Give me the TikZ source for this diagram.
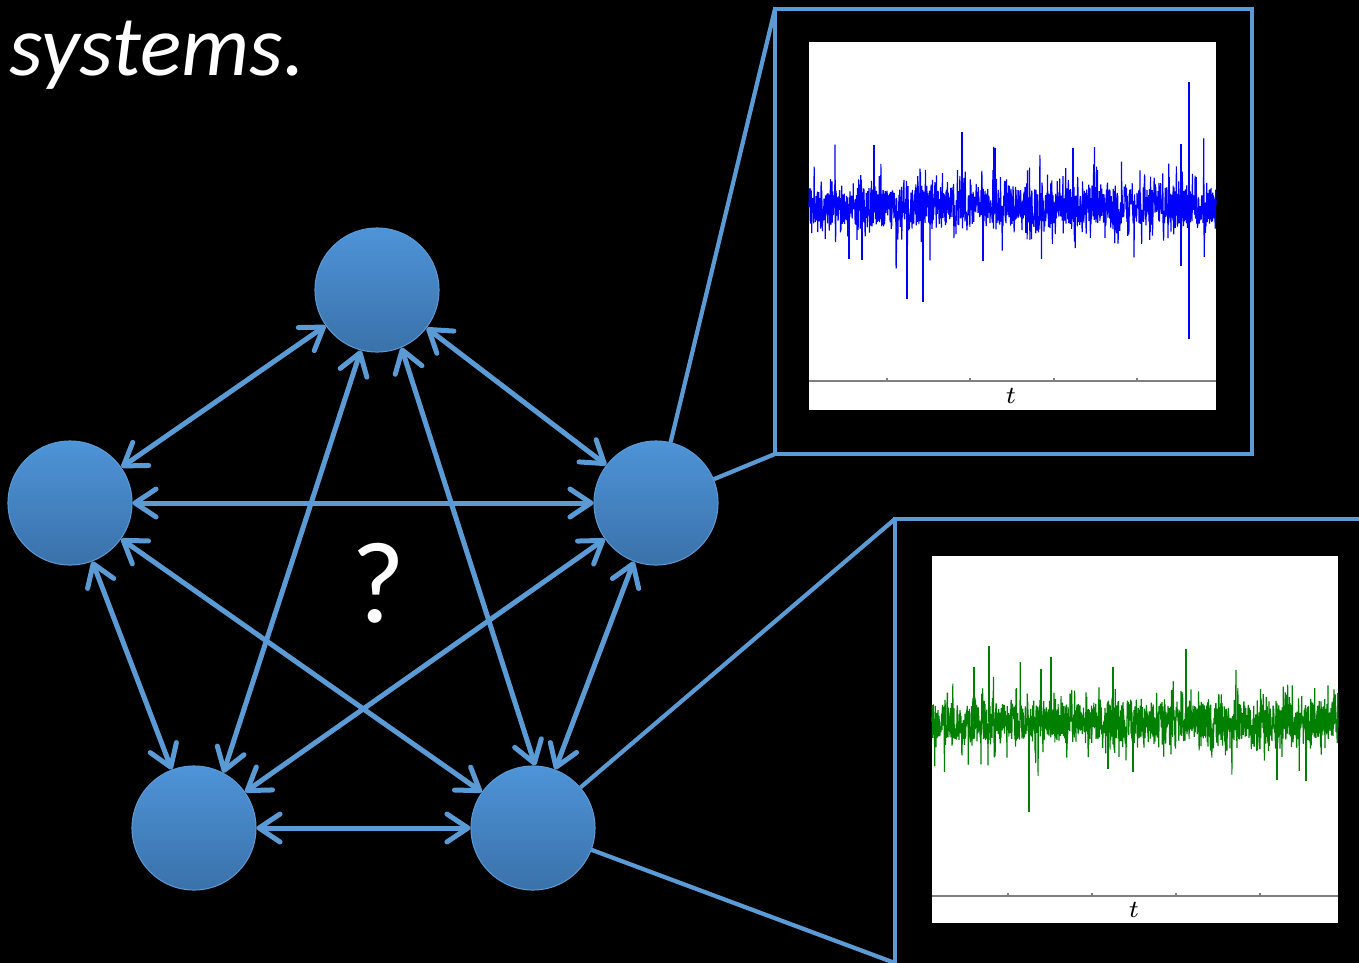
\documentclass[tikz,border=0pt]{standalone}
\usepackage{fontspec}
\setmainfont{Carlito}
\usetikzlibrary{arrows.meta}

\definecolor{linkblue}{RGB}{91,155,213}
\definecolor{nodetop}{RGB}{78,148,216}
\definecolor{nodebot}{RGB}{58,113,170}
\definecolor{tracegreen}{RGB}{0,128,0}

\tikzset{
	agent/.style={circle, minimum size=1.24cm, inner sep=0pt, draw=linkblue, line width=0.1mm, top color=nodetop, bottom color=nodebot},
	link/.style={{Straight Barb[length=2.1mm,width=2.8mm,round]}-{Straight Barb[length=2.1mm,width=2.8mm,round]}, linkblue, line width=0.5mm},
	zoomline/.style={linkblue, line width=0.42mm},
	zoomframe/.style={linkblue, line width=0.45mm},
	spike/.style={line width=0.3pt},
}

% noisy time series: colour, left x, right x, middle y, seed
\newcommand{\noisetrace}[5]{%
	\pgfmathsetseed{#5}
	\pgfmathsetmacro{\tracestep}{(#3-#2)/1500}
	\draw[#1, line width=0.33pt, line join=bevel] (#2,#4)
		\foreach \k in {1,...,1500}{ -- ({#2+\k*\tracestep}, {#4+rand*(17+22*rnd^4+45*rnd^18)}) };
}

\begin{document}
\begin{tikzpicture}[x=0.01cm, y=-0.01cm]
		\fill[black] (0,0) rectangle (1359,963);
		\useasboundingbox (0,0) rectangle (1359,963);

		\node[anchor=base west, white, font=\fontsize{24.5}{29}\selectfont\itshape] (title) at (-3,75) {systems.};

		% the five units
		\node[agent] (nT) at (377,290) {};
		\node[agent] (nL) at (70,503) {};
		\node[agent] (nR) at (656,503) {};
		\node[agent] (nBL) at (194,828) {};
		\node[agent] (nBR) at (533,828) {};

		\node[white, anchor=base, font=\fontsize{33}{36}\selectfont] (qmark) at (378,622) {?};

		\foreach \a/\b in {nT/nL, nT/nR, nL/nR, nL/nBR, nR/nBL, nL/nBL, nR/nBR, nBL/nBR}{
			\draw[link] (\a) -- (\b);
		}
		\draw[link] (nT.-105) -- (nBL.62);
		\draw[link] (nT.-67) -- (nBR.88);

		% upper zoom box
		\coordinate (b1nw) at (775,9);
		\coordinate (b1sw) at (775,454);
		\draw[zoomframe] (b1nw) rectangle (1252,454);
		\draw[zoomline] (nR) -- (b1nw);
		\draw[zoomline] (nR) -- (b1sw);
		\fill[white] (809,42) rectangle (1216,410);
		\noisetrace{blue}{809}{1216}{207}{17}
		\foreach \x/\y in {874/145, 962/132, 995/148, 1073/148, 1181/144, 1189/82, 907/299, 923/302, 862/260, 849/259, 983/261, 1189/339, 1181/266}{
			\draw[blue, spike] (\x,207) -- (\x,\y);
		}
		\draw[gray, line width=0.4pt] (809,381) -- (1216,381);
		\foreach \x in {887,970,1054,1137}{
			\draw[gray, line width=0.4pt] (\x,381) -- (\x,378);
		}
		\node[font=\fontsize{6.7}{8}\selectfont] (t1) at (1011,396) {$t$};

		% lower zoom box
		\coordinate (b2nw) at (895,519);
		\coordinate (b2sw) at (895,963);
		\draw[zoomframe] (b2nw) rectangle (1400,1000);
		\draw[zoomline] (nBR) -- (b2nw);
		\draw[zoomline] (nBR) -- (b2sw);
		\fill[white] (932,556) rectangle (1338,923);
		\noisetrace{tracegreen}{932}{1338}{722}{5}
		\foreach \x/\y in {989/646, 1051/657, 1186/649, 974/667, 1113/667, 1041/669, 1029/812, 1277/780, 1306/781, 1108/769, 1133/772}{
			\draw[tracegreen, spike] (\x,722) -- (\x,\y);
		}
		\draw[gray, line width=0.4pt] (932,896) -- (1338,896);
		\foreach \x in {1008,1092,1176,1260}{
			\draw[gray, line width=0.4pt] (\x,896) -- (\x,893);
		}
		\node[font=\fontsize{6.7}{8}\selectfont] (t2) at (1134,910) {$t$};
	\end{tikzpicture}
\end{document}
